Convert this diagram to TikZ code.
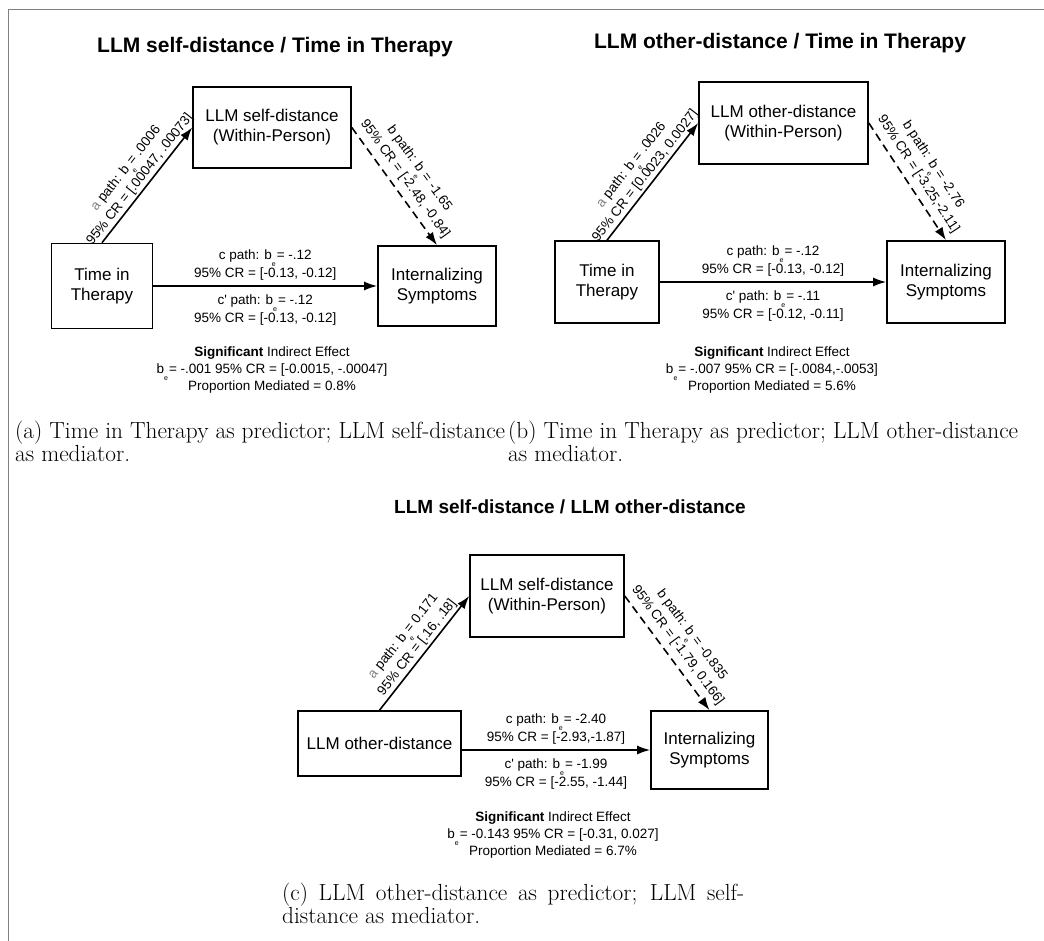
\documentclass[tikz,border=0pt]{standalone}
\usepackage{fontspec}
\newfontfamily\arial{Liberation Sans}
\usepackage{tikz}
\usetikzlibrary{arrows.meta, positioning, calc}

\newcommand{\be}{b\raisebox{-0.5em}{\fontsize{7}{7}\selectfont e}\kern1pt}

\tikzset{
	var/.style={draw, line width=1.6pt, align=center, inner sep=2pt, font=\arial\fontsize{17}{20}\selectfont},
	lbl/.style={align=center, inner sep=2pt, font=\arial\fontsize{13.5}{15.5}\selectfont},
	eff/.style={lbl, font=\arial\fontsize{13.5}{17}\selectfont},
	ttl/.style={font=\arial\bfseries\fontsize{21}{24}\selectfont},
	arr/.style={-{Latex[length=13pt, width=9pt]}, line width=1.6pt},
	dsh/.style={arr, dash pattern=on 8pt off 5pt},
	caption/.style={anchor=north west, inner sep=0pt, align=justify, font=\fontsize{23.3}{23.5}\selectfont}
}

\begin{document}
\begin{tikzpicture}[x=1pt, y=-1pt]
	\useasboundingbox (0,0) rectangle (1044,941);
	% cornice
	\draw[gray, line width=1pt] (8.5,941) -- (8.5,9.5) -- (1044,9.5);

	% Primo pannello
	\node[ttl] (TA) at (275,47) {LLM self-distance / Time in Therapy};
	\node[var, minimum width=158, minimum height=81] (MA) at (272,127.5) {LLM self-distance\\(Within-Person)};
	\node[var, minimum width=101, minimum height=85] (XA) at (102,286) {Time in\\Therapy};
	\node[var, minimum width=118, minimum height=80] (YA) at (437,286) {Internalizing\\Symptoms};
	\draw[arr] (XA.north) -- node[lbl, sloped, above] {{\color{gray}a} path: \be= .0006\\95\% CR = [.00047, .00073]} (MA.west);
	\draw[dsh] (MA.east) -- node[lbl, sloped, above=4pt] {b path: \be= -1.65\\95\% CR = [-2.48, -0.84]} (YA.north);
	\draw[arr] (XA) -- node[lbl, above=3pt] {c path: \be= -.12\\95\% CR = [-0.13, -0.12]}
		node[lbl, below=6pt] {c' path: \be= -.12\\95\% CR = [-0.13, -0.12]} (YA);
	\node[eff] (EA) at (272,370) {\textbf{Significant} Indirect Effect\\\be= -.001 95\% CR = [-0.0015, -.00047]\\Proportion Mediated = 0.8\%};
	\node[caption, text width=490] (CA) at (15,420.5) {(a) Time in Therapy as predictor; LLM self-distance as mediator.};

	% Secondo pannello
	\node[ttl] (TB) at (780,43) {LLM other-distance / Time in Therapy};
	\node[var, minimum width=169, minimum height=82] (MB) at (783.5,123) {LLM other-distance\\(Within-Person)};
	\node[var, minimum width=104, minimum height=82] (XB) at (607,282) {Time in\\Therapy};
	\node[var, minimum width=118, minimum height=82] (YB) at (946,282) {Internalizing\\Symptoms};
	\draw[arr] (XB.north) -- node[lbl, sloped, above] {{\color{gray}a} path: \be= .0026\\95\% CR = [0.0023, 0.0027]} (MB.west);
	\draw[dsh] (MB.east) -- node[lbl, sloped, above=4pt] {b path: \be= -2.76\\95\% CR = [-3.25,-2.11]} (YB.north);
	\draw[arr] (XB) -- node[lbl, above=3pt] {c path: \be= -.12\\95\% CR = [-0.13, -0.12]}
		node[lbl, below=6pt] {c' path: \be= -.11\\95\% CR = [-0.12, -0.11]} (YB);
	\node[eff] (EB) at (772,370) {\textbf{Significant} Indirect Effect\\\be= -.007 95\% CR = [-.0084,-.0053]\\Proportion Mediated = 5.6\%};
	\node[caption, text width=510] (CB) at (508,420.5) {(b) Time in Therapy as predictor; LLM other-distance as mediator.};

	% Terzo pannello
	\node[ttl, font=\arial\bfseries\fontsize{19}{22}\selectfont] (TC) at (570,507) {LLM self-distance / LLM other-distance};
	\node[var, minimum width=154, minimum height=82] (MC) at (547,596) {LLM self-distance\\(Within-Person)};
	\node[var, minimum width=163, minimum height=65] (XC) at (379.5,743.5) {LLM other-distance};
	\node[var, minimum width=117, minimum height=78] (YC) at (709.5,750) {Internalizing\\Symptoms};
	\draw[arr] (XC.north) -- node[lbl, sloped, above] {{\color{gray}a} path: \be= 0.171\\95\% CR = [.16, .18]} (MC.west);
	\draw[dsh] (MC.east) -- node[lbl, sloped, above=4pt] {b path: \be= -0.835\\95\% CR = [-1.79, 0.166]} (YC.north);
	\draw[arr] (XC.east |- YC) -- node[lbl, above=3pt] {c path: \be= -2.40\\95\% CR = [-2.93,-1.87]}
		node[lbl, below=6pt] {c' path: \be= -1.99\\95\% CR = [-2.55, -1.44]} (YC);
	\node[eff] (EC) at (553,835) {\textbf{Significant} Indirect Effect\\\be= -0.143 95\% CR = [-0.31, 0.027]\\Proportion Mediated = 6.7\%};
	\node[caption, text width=462] (CC) at (282,882.5) {(c) LLM other-distance as predictor; LLM self-distance as mediator.};
\end{tikzpicture}
\end{document}
